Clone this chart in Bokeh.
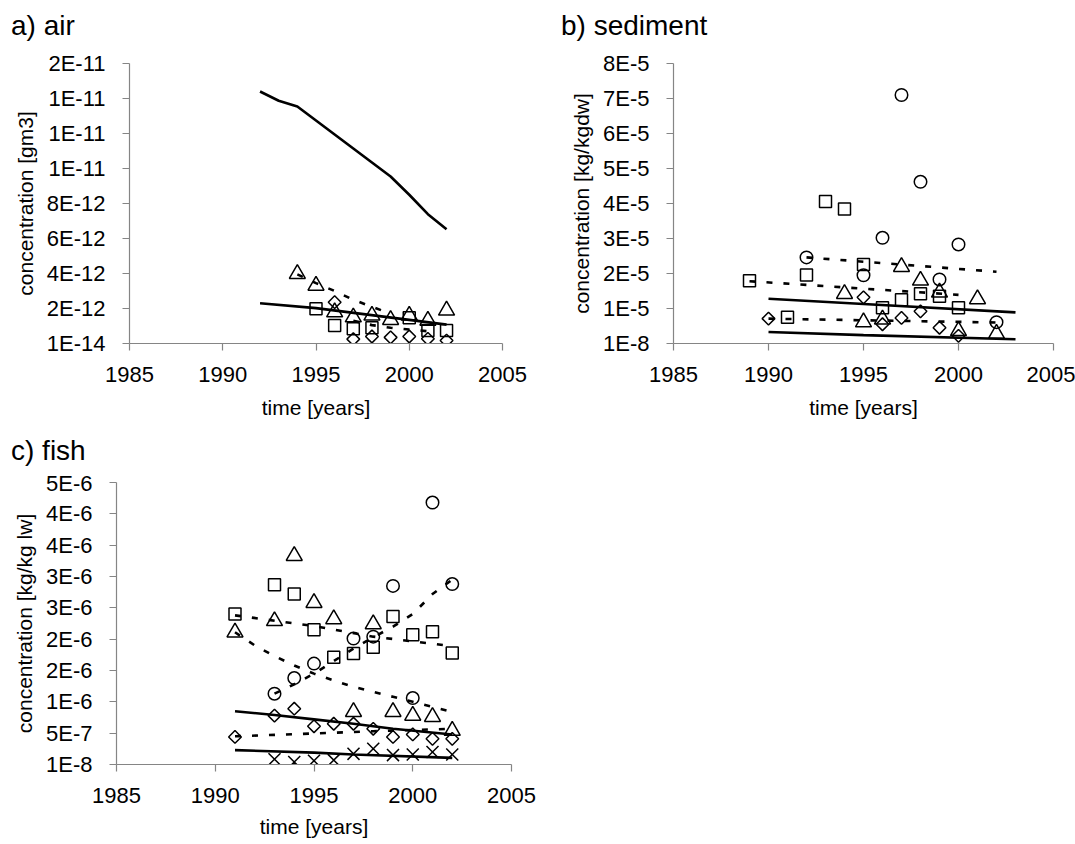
from bokeh.plotting import figure
from bokeh.layouts import column, row
from bokeh.models import Range1d, FixedTicker, CustomJSTickFormatter, Div
from bokeh.embed import file_html
from bokeh.resources import INLINE
import numpy as np

FONT = "Liberation Sans"

# ---------------- shared x axis ----------------
x_ticks = [1985, 1990, 1995, 2000, 2005]

# ---------------- a) air ----------------
air_y_ticks = [0, 2e-12, 4e-12, 6e-12, 8e-12, 1.0e-11, 1.2e-11, 1.4e-11, 1.6e-11]
air_y_labels = ["1E-14", "2E-12", "4E-12", "6E-12", "8E-12", "1E-11", "1E-11", "1E-11", "2E-11"]

air_upper_years = [1992, 1993, 1994, 1995, 1996, 1997, 1998, 1999, 2000, 2001, 2002]
air_upper = [14.4e-12, 13.87e-12, 13.54e-12, 12.74e-12, 11.94e-12, 11.14e-12,
             10.34e-12, 9.54e-12, 8.5e-12, 7.39e-12, 6.53e-12]
air_lower_years = [1992, 1995, 2000, 2002]
air_lower = [2.3e-12, 2.02e-12, 1.35e-12, 1.08e-12]
air_dash_tri_years = [1994, 1995, 1996, 1997, 1998, 1999]
air_dash_tri = [3.95e-12, 3.45e-12, 3.0e-12, 2.5e-12, 2.1e-12, 1.7e-12]
air_dash_low_years = [1997, 1998, 1999, 2000, 2001]
air_dash_low = [1.3e-12, 1.05e-12, 0.9e-12, 0.8e-12, 0.7e-12]

air_tri_years = [1994, 1995, 1996, 1997, 1998, 1999, 2000, 2001, 2002]
air_tri = [3.98e-12, 3.31e-12, 1.79e-12, 1.5e-12, 1.6e-12, 1.35e-12, 1.6e-12, 1.31e-12, 1.89e-12]
air_sq_years = [1995, 1996, 1997, 1998, 2000, 2001, 2002]
air_sq = [1.98e-12, 1.03e-12, 0.84e-12, 0.9e-12, 1.47e-12, 0.74e-12, 0.74e-12]
air_dia_years = [1996, 1997, 1998, 1999, 2000, 2001, 2002]
air_dia = [2.36e-12, 0.25e-12, 0.4e-12, 0.35e-12, 0.4e-12, 0.27e-12, 0.17e-12]

# ---------------- b) sediment ----------------
sed_y_ticks = [0, 1e-5, 2e-5, 3e-5, 4e-5, 5e-5, 6e-5, 7e-5, 8e-5]
sed_y_labels = ["1E-8", "1E-5", "2E-5", "3E-5", "4E-5", "5E-5", "6E-5", "7E-5", "8E-5"]

sed_circ_years = [1992, 1995, 1996, 1997, 1998, 1999, 2000, 2002]
sed_circ = [2.46e-5, 1.95e-5, 3.02e-5, 7.1e-5, 4.62e-5, 1.83e-5, 2.83e-5, 0.61e-5]
sed_sq_years = [1989, 1991, 1992, 1993, 1994, 1995, 1996, 1997, 1998, 1999, 2000]
sed_sq = [1.79e-5, 0.75e-5, 1.96e-5, 4.06e-5, 3.84e-5, 2.26e-5, 1.02e-5, 1.25e-5, 1.42e-5, 1.35e-5, 1.02e-5]
sed_tri_years = [1994, 1995, 1996, 1997, 1998, 1999, 2000, 2001, 2002]
sed_tri = [1.42e-5, 0.61e-5, 0.69e-5, 2.19e-5, 1.8e-5, 1.46e-5, 0.36e-5, 1.27e-5, 0.28e-5]
sed_dia_years = [1990, 1995, 1996, 1997, 1998, 1999, 2000]
sed_dia = [0.71e-5, 1.32e-5, 0.55e-5, 0.73e-5, 0.92e-5, 0.45e-5, 0.22e-5]

sed_dash_circ_years = [1992, 2002]
sed_dash_circ = [2.46e-5, 2.05e-5]
sed_dash_sq_years = [1989, 2000]
sed_dash_sq = [1.78e-5, 1.39e-5]
sed_dash_low_years = [1990, 2002]
sed_dash_low = [0.71e-5, 0.6e-5]
sed_solid_up_years = [1990, 1995, 2003]
sed_solid_up = [1.28e-5, 1.13e-5, 0.89e-5]
sed_solid_low_years = [1990, 1995, 2003]
sed_solid_low = [0.33e-5, 0.24e-5, 0.12e-5]

# ---------------- c) fish ----------------
fish_y_ticks = [0, 0.5e-6, 1.0e-6, 1.5e-6, 2.0e-6, 2.5e-6, 3.0e-6, 3.5e-6, 4.0e-6, 4.5e-6]
fish_y_labels = ["1E-8", "5E-7", "1E-6", "2E-6", "2E-6", "3E-6", "3E-6", "4E-6", "4E-6", "5E-6"]

fish_circ_years = [1993, 1994, 1995, 1997, 1998, 1999, 2000, 2001, 2002]
fish_circ = [1.13e-6, 1.38e-6, 1.61e-6, 2.01e-6, 2.04e-6, 2.85e-6, 1.06e-6, 4.18e-6, 2.88e-6]
fish_sq_years = [1991, 1993, 1994, 1995, 1996, 1997, 1998, 1999, 2000, 2001, 2002]
fish_sq = [2.40e-6, 2.87e-6, 2.72e-6, 2.15e-6, 1.71e-6, 1.77e-6, 1.87e-6, 2.36e-6, 2.07e-6, 2.12e-6, 1.78e-6]
fish_tri_years = [1991, 1993, 1994, 1995, 1996, 1997, 1998, 1999, 2000, 2001, 2002]
fish_tri = [2.11e-6, 2.29e-6, 3.33e-6, 2.58e-6, 2.32e-6, 0.84e-6, 2.24e-6, 0.84e-6, 0.78e-6, 0.76e-6, 0.54e-6]
fish_dia_years = [1991, 1993, 1994, 1995, 1996, 1997, 1998, 1999, 2000, 2001, 2002]
fish_dia = [0.44e-6, 0.78e-6, 0.89e-6, 0.61e-6, 0.65e-6, 0.65e-6, 0.57e-6, 0.44e-6, 0.48e-6, 0.41e-6, 0.41e-6]
fish_x_years = [1993, 1994, 1995, 1996, 1997, 1998, 1999, 2000, 2001, 2002]
fish_x = [0.085e-6, 0.04e-6, 0.06e-6, 0.07e-6, 0.17e-6, 0.25e-6, 0.15e-6, 0.16e-6, 0.2e-6, 0.16e-6]

fish_dash_sq_years = [1991, 1995, 1998, 2002]
fish_dash_sq = [2.38e-6, 2.21e-6, 2.04e-6, 1.89e-6]
fish_dash_tri_years = [1991, 1992, 1993, 1994, 1995, 1996, 1997, 1998, 1999, 2000, 2001, 2002]
fish_dash_tri = [2.11e-6, 1.9e-6, 1.73e-6, 1.58e-6, 1.45e-6, 1.34e-6, 1.24e-6, 1.16e-6, 1.08e-6, 1.0e-6, 0.92e-6, 0.84e-6]
fish_dash_circ_years = [1993, 1994, 1995, 1996, 1997, 1998, 1999, 2000, 2001, 2002]
fish_dash_circ = [1.13e-6, 1.28e-6, 1.45e-6, 1.65e-6, 1.85e-6, 2.03e-6, 2.2e-6, 2.4e-6, 2.72e-6, 2.95e-6]
fish_dash_dia_years = [1991, 1998, 2002]
fish_dash_dia = [0.45e-6, 0.53e-6, 0.57e-6]
fish_solid_up_years = [1991, 1993, 1995, 1997, 1999, 2002]
fish_solid_up = [0.85e-6, 0.79e-6, 0.72e-6, 0.65e-6, 0.57e-6, 0.48e-6]
fish_solid_low_years = [1991, 1995, 1997, 2002]
fish_solid_low = [0.23e-6, 0.19e-6, 0.16e-6, 0.105e-6]

AXIS_GRAY = "#858585"
DASH = "6 11"
TITLE_H = 45


def title_div(text, width, pad_left):
    return Div(text=text, width=width, height=TITLE_H, margin=0,
               styles={"font-family": "'Liberation Sans', sans-serif",
                       "font-size": "28px", "line-height": "28px",
                       "color": "black", "padding-top": "12px",
                       "padding-left": f"{pad_left}px", "box-sizing": "border-box",
                       "white-space": "nowrap"})


def make_fig(width, height, mbl, mbr, mbt, mbb, y_ticks, y_labels, y_label, als_x):
    p = figure(width=width, height=height,
               x_range=Range1d(1985, 2005), y_range=Range1d(y_ticks[0], y_ticks[-1]),
               output_backend="svg", toolbar_location=None,
               min_border_left=mbl, min_border_right=mbr,
               min_border_top=mbt, min_border_bottom=mbb)
    p.outline_line_color = None
    p.grid.visible = False
    p.background_fill_color = "white"
    p.border_fill_color = "white"

    p.xaxis.ticker = FixedTicker(ticks=x_ticks)
    p.yaxis.ticker = FixedTicker(ticks=y_ticks)
    p.yaxis.formatter = CustomJSTickFormatter(
        args=dict(vals=y_ticks, labels=y_labels, tol=abs(y_ticks[-1]) * 1e-6),
        code="""
        for (let i = 0; i < vals.length; i++) {
            if (Math.abs(vals[i] - tick) <= tol) { return labels[i]; }
        }
        return "";
        """)
    for ax in (p.xaxis[0], p.yaxis[0]):
        ax.axis_line_color = AXIS_GRAY
        ax.axis_line_width = 1.2
        ax.major_tick_line_color = AXIS_GRAY
        ax.major_tick_line_width = 1.2
        ax.major_tick_in = 0
        ax.major_tick_out = 7
        ax.minor_tick_line_color = None
        ax.major_label_text_font = FONT
        ax.major_label_text_font_size = "22px"
        ax.major_label_text_color = "black"
        ax.axis_label_text_font = FONT
        ax.axis_label_text_font_size = "21px"
        ax.axis_label_text_font_style = "normal"
        ax.axis_label_text_color = "black"
    p.xaxis.major_label_standoff = 16
    p.xaxis.axis_label = "time [years]"
    p.xaxis.axis_label_standoff = als_x
    p.yaxis.major_label_standoff = 17
    p.yaxis.axis_label = y_label
    p.yaxis.axis_label_standoff = 7
    return p


MK = dict(line_color="black", line_width=1.5, fill_color=None)


def markers(p, sq=None, tri=None, circ=None, dia=None, cross=None):
    if sq:
        p.scatter(sq[0], sq[1], marker="square", size=12, **MK)
    if tri:
        p.scatter(tri[0], tri[1], marker="triangle", size=16, **MK)
    if circ:
        p.scatter(circ[0], circ[1], marker="circle", size=12.5, **MK)
    if dia:
        p.scatter(dia[0], dia[1], marker="square", size=9, angle=np.pi / 4, **MK)
    if cross:
        p.scatter(cross[0], cross[1], marker="x", size=17, **MK)


def solid(p, xs, ys):
    p.line(xs, ys, line_color="black", line_width=2.6)


def dashed(p, xs, ys):
    p.line(xs, ys, line_color="black", line_width=2.6, line_dash=DASH)


# a) air  (frame x 129..502, y 63..343)
pa = make_fig(540, 380, 129, 38, 63 - TITLE_H, 82, air_y_ticks, air_y_labels,
              "concentration [gm3]", 11)
markers(pa, sq=(air_sq_years, air_sq), tri=(air_tri_years, air_tri),
        dia=(air_dia_years, air_dia))
solid(pa, air_upper_years, air_upper)
solid(pa, air_lower_years, air_lower)
dashed(pa, air_dash_tri_years, air_dash_tri)
dashed(pa, air_dash_low_years, air_dash_low)

# b) sediment  (frame x 673..1053, y 61..343)
pb = make_fig(535, 380, 133, 22, 61 - TITLE_H, 82, sed_y_ticks, sed_y_labels,
              "concentration [kg/kgdw]", 11)
markers(pb, sq=(sed_sq_years, sed_sq), tri=(sed_tri_years, sed_tri),
        circ=(sed_circ_years, sed_circ), dia=(sed_dia_years, sed_dia))
solid(pb, sed_solid_up_years, sed_solid_up)
solid(pb, sed_solid_low_years, sed_solid_low)
dashed(pb, sed_dash_circ_years, sed_dash_circ)
dashed(pb, sed_dash_sq_years, sed_dash_sq)
dashed(pb, sed_dash_low_years, sed_dash_low)

# c) fish  (frame x 116..511, y 482..764)
pc = make_fig(551, 374, 116, 40, 12, 80, fish_y_ticks, fish_y_labels,
              "concentration [kg/kg lw]", 9)
markers(pc, sq=(fish_sq_years, fish_sq), tri=(fish_tri_years, fish_tri),
        circ=(fish_circ_years, fish_circ), dia=(fish_dia_years, fish_dia),
        cross=(fish_x_years, fish_x))
solid(pc, fish_solid_up_years, fish_solid_up)
solid(pc, fish_solid_low_years, fish_solid_low)
dashed(pc, fish_dash_sq_years, fish_dash_sq)
dashed(pc, fish_dash_tri_years, fish_dash_tri)
dashed(pc, fish_dash_circ_years, fish_dash_circ)
dashed(pc, fish_dash_dia_years, fish_dash_dia)

ta = title_div("a) air", 540, 11)
tb = title_div("b) sediment", 535, 21)
tc = title_div("c) fish", 551, 11)

layout = column(row(ta, tb), row(pa, pb), tc, pc)

open("out.html", "w").write(file_html(layout, INLINE))
